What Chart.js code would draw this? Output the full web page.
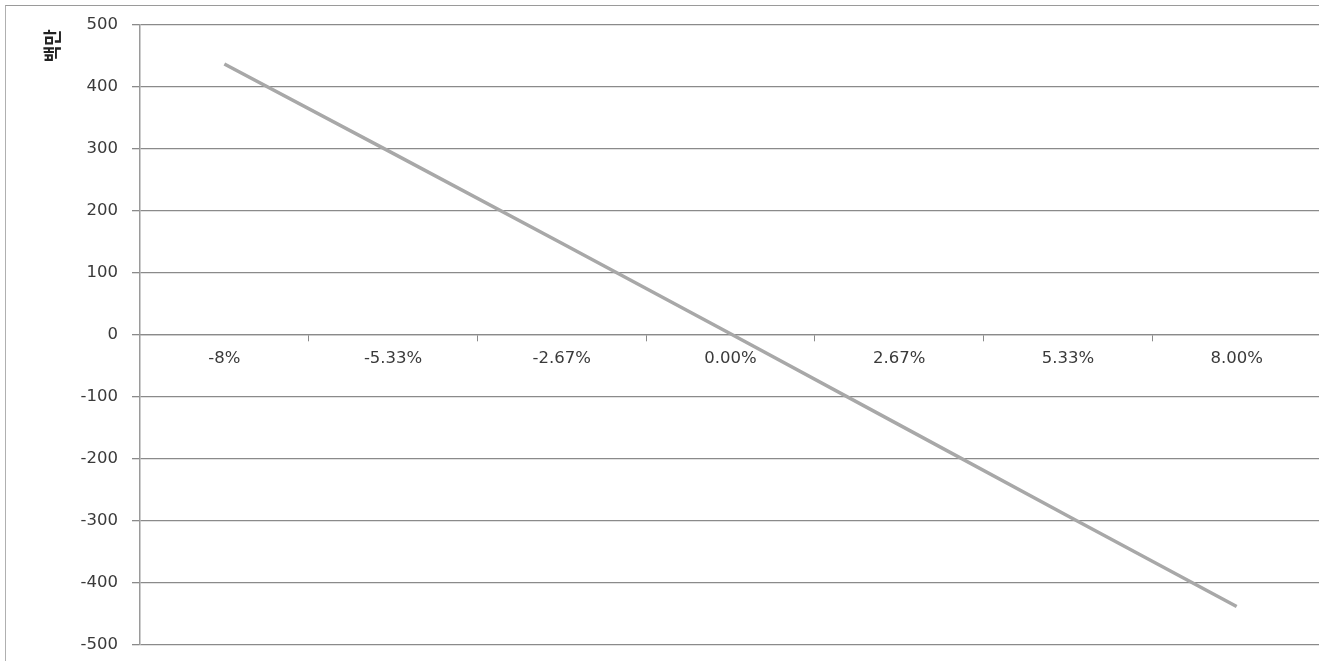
<!DOCTYPE html>
<html>
<head>
<meta charset="utf-8">
<script src="https://cdn.jsdelivr.net/npm/chart.js@4"></script>
<style>
  html, body { margin: 0; padding: 0; background: #ffffff; overflow: hidden; }
  #wrap { position: relative; width: 1321px; height: 661px; }
  #c { display: block; }
  #frame { position: absolute; left: 5px; top: 5px; width: 1400px; height: 700px;
           border-top: 1px solid #9a9a9a; border-left: 1px solid #b0b0b0; pointer-events: none; }
</style>
</head>
<body>
<div id="wrap">
  <canvas id="c" width="1321" height="661" style="width:1321px;height:661px"></canvas>
  <div id="frame"></div>
</div>
<script>
const categories = ['-8%', '-5.33%', '-2.67%', '0.00%', '2.67%', '5.33%', '8.00%'];
const seriesValues = [437, 293, 148, 2, -145, -292, -438];
const yTitle = '백만 ';
const yMin = -500, yMax = 500, yStep = 100;

const gridColor = '#8a8a8a';
const labelFont = { family: 'DejaVu Sans', size: 16.5 };

new Chart(document.getElementById('c'), {
  type: 'line',
  data: {
    labels: categories,
    datasets: [{
      data: seriesValues,
      borderColor: '#a8a8a8',
      borderWidth: 3.5,
      pointRadius: 0,
      tension: 0,
      fill: false
    }]
  },
  options: {
    responsive: false,
    maintainAspectRatio: false,
    animation: false,
    layout: { padding: { left: 37, top: 25, bottom: 16, right: 0 } },
    plugins: { legend: { display: false }, tooltip: { enabled: false } },
    scales: {
      x: {
        type: 'category',
        position: { y: 0 },
        offset: true,
        afterFit: (scale) => { scale.paddingTop = 0; scale.paddingBottom = 0; scale.height = 0; },
        grid: {
          display: true,
          offset: true,
          drawOnChartArea: false,
          drawTicks: true,
          tickLength: 6,
          color: gridColor,
          lineWidth: 1
        },
        border: { display: true, color: gridColor, width: 1.3 },
        ticks: {
          color: '#3a3a3a',
          font: labelFont,
          padding: 8,
          maxRotation: 0,
          autoSkip: false
        }
      },
      y: {
        min: yMin,
        max: yMax,
        afterFit: (scale) => { scale.width = 103; scale.paddingTop = 0; scale.paddingBottom = 0; },
        ticks: {
          stepSize: yStep,
          color: '#3a3a3a',
          font: labelFont,
          padding: 14
        },
        grid: {
          color: gridColor,
          lineWidth: 1.3,
          tickLength: 8,
          drawTicks: true
        },
        border: { display: true, color: '#9a9a9a', width: 1.5 },
        title: {
          display: true,
          text: yTitle,
          align: 'end',
          color: '#222222',
          font: { family: 'Noto Sans CJK KR', size: 18, weight: 'bold' },
          padding: { top: 4, bottom: 4 }
        }
      }
    }
  }
});
</script>
</body>
</html>
